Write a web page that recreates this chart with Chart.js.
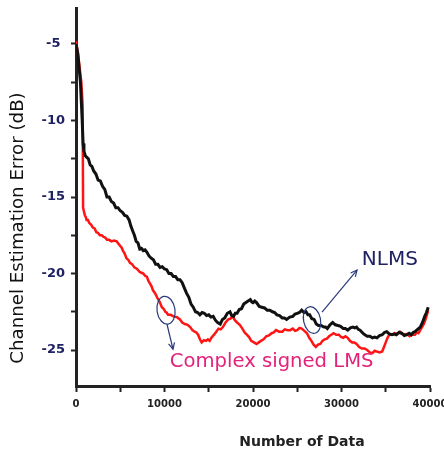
<!DOCTYPE html>
<html>
<head>
<meta charset="utf-8">
<script src="https://cdn.jsdelivr.net/npm/chart.js@4"></script>
<style>
  html, body { margin: 0; padding: 0; background: #fff; }
  #wrap { width: 444px; height: 454px; }
</style>
</head>
<body>
<div id="wrap"><canvas id="chart" width="444" height="454"></canvas></div>
<script>
'use strict';
// Data: number of data vs channel estimation error (dB)
const nlmsX = [0,200,500,700,800,900,1050,1200,1400,1600,1800,2000,2250,2500,2750,3000,3250,3500,3750,4000,4250,4500,4750,5000,5250,5500,5750,6000,6200,6400,6600,6800,7000,7200,7400,7600,7800,8000,8250,8500,8750,9000,9250,9500,9750,10000,10250,10500,10750,11000,11250,11500,11750,12000,12250,12500,12750,13000,13250,13500,13750,14000,14250,14500,14750,15000,15250,15500,15750,16000,16300,16550,16800,17100,17400,17600,17800,18000,18200,18450,18700,18950,19200,19450,19700,19850,20000,20200,20400,20700,21000,21300,21600,21900,22200,22450,22700,23000,23300,23550,23800,24150,24500,24750,25000,25250,25500,25750,26000,26200,26400,26650,26900,27150,27400,27700,28000,28200,28400,28700,29000,29300,29600,29900,30200,30450,30700,31000,31300,31500,31700,31900,32100,32500,32900,33200,33500,33750,34000,34300,34600,34850,35100,35400,35700,35950,36200,36500,36800,37100,37400,37650,37900,38100,38300,38600,38900,39150,39400,39600,39800];
const nlmsY = [-5.0,-5.6,-7.5,-10.0,-11.5,-12.0,-12.3,-12.4,-12.5,-12.9,-13.0,-13.3,-13.5,-13.9,-13.95,-14.3,-14.5,-15.0,-15.0,-15.3,-15.4,-15.7,-15.7,-15.9,-16.0,-16.2,-16.25,-16.5,-16.9,-17.2,-17.5,-17.9,-18.0,-18.4,-18.35,-18.5,-18.45,-18.6,-18.85,-19.0,-19.1,-19.4,-19.4,-19.6,-19.55,-19.7,-19.75,-20.0,-20.0,-20.2,-20.2,-20.4,-20.4,-20.6,-20.95,-21.3,-21.55,-22.0,-22.2,-22.5,-22.55,-22.7,-22.55,-22.6,-22.75,-22.7,-22.85,-22.8,-23.05,-23.2,-23.3,-23.0,-22.9,-22.6,-22.5,-22.75,-22.8,-22.6,-22.6,-22.35,-22.3,-22.0,-21.9,-21.8,-21.7,-21.85,-21.9,-21.8,-21.9,-22.15,-22.2,-22.25,-22.4,-22.4,-22.5,-22.55,-22.7,-22.75,-22.9,-22.9,-23.0,-22.85,-22.8,-22.65,-22.6,-22.55,-22.4,-22.55,-22.5,-22.7,-22.7,-22.95,-23.0,-23.3,-23.4,-23.4,-23.5,-23.5,-23.6,-23.35,-23.2,-23.35,-23.4,-23.45,-23.6,-23.6,-23.7,-23.55,-23.5,-23.55,-23.5,-23.65,-23.7,-23.95,-24.1,-24.1,-24.2,-24.15,-24.2,-24.05,-24.0,-23.85,-23.8,-23.95,-24.0,-23.95,-24.0,-23.85,-23.9,-24.05,-24.0,-23.9,-24.0,-23.85,-23.8,-23.65,-23.5,-23.2,-22.8,-22.55,-22.2];
const cslmsX = [0,300,600,750,800,1000,1100,1200,1350,1500,1700,1900,2100,2300,2500,2700,2900,3100,3300,3500,3750,4000,4300,4600,4800,5000,5150,5300,5500,5700,5900,6100,6350,6600,6900,7200,7400,7600,7800,8000,8200,8400,8550,8700,8950,9200,9450,9700,9900,10100,10250,10400,10700,11000,11400,11750,12000,12300,12600,12900,13150,13400,13600,13800,14000,14200,14450,14700,14900,15100,15350,15600,15850,16100,16350,16600,16900,17200,17450,17700,17950,18200,18500,18800,19050,19300,19550,19800,20100,20400,20650,20900,21200,21500,21800,22100,22350,22600,22950,23300,23600,23900,24200,24500,24750,25000,25250,25500,25800,26100,26350,26600,26850,27100,27350,27600,27850,28100,28350,28600,28850,29100,29400,29700,29950,30200,30450,30700,30950,31200,31450,31700,32000,32300,32600,32900,33200,33500,33750,34000,34300,34600,34800,35000,35200,35400,35700,36000,36300,36600,36850,37100,37400,37700,38000,38300,38500,38700,38900,39100,39300,39500,39650,39800];
const cslmsY = [-4.8,-6.0,-7.5,-9.0,-15.7,-16.2,-16.3,-16.5,-16.5,-16.7,-16.8,-17.0,-17.05,-17.3,-17.35,-17.5,-17.5,-17.6,-17.65,-17.8,-17.8,-17.9,-17.85,-17.9,-18.05,-18.2,-18.3,-18.5,-18.7,-19.0,-19.1,-19.3,-19.4,-19.6,-19.7,-19.9,-19.95,-20.0,-20.15,-20.2,-20.5,-20.7,-20.85,-21.1,-21.3,-21.6,-21.85,-22.2,-22.3,-22.5,-22.55,-22.7,-22.7,-22.8,-22.85,-23.0,-23.2,-23.3,-23.35,-23.5,-23.7,-23.8,-23.85,-24.0,-24.3,-24.5,-24.35,-24.4,-24.3,-24.4,-24.15,-24.0,-23.8,-23.6,-23.65,-23.5,-23.2,-23.0,-22.95,-22.8,-23.05,-23.2,-23.35,-23.6,-23.85,-24.0,-24.15,-24.4,-24.5,-24.6,-24.5,-24.4,-24.3,-24.1,-24.05,-23.9,-23.85,-23.7,-23.8,-23.8,-23.65,-23.7,-23.7,-23.6,-23.75,-23.7,-23.55,-23.6,-23.75,-23.9,-24.2,-24.4,-24.65,-24.8,-24.65,-24.6,-24.4,-24.3,-24.25,-24.1,-24.0,-23.9,-24.0,-24.0,-24.15,-24.2,-24.1,-24.2,-24.4,-24.5,-24.5,-24.6,-24.8,-24.9,-24.9,-25.0,-25.15,-25.2,-25.05,-25.1,-25.15,-25.1,-24.8,-24.5,-24.2,-24.0,-24.0,-23.9,-23.95,-23.8,-23.95,-24.0,-23.95,-24.1,-24.0,-24.0,-23.85,-23.9,-23.7,-23.5,-23.3,-23.0,-22.7,-22.4];
// Axis ticks
const xTicks = [0,5000,10000,15000,20000,25000,30000,35000,40000];
const yTicks = [-25,-22.5,-20,-17.5,-15,-12.5,-10,-7.5,-5];

const toPoints = (xs, ys) => xs.map((x, i) => ({x: x, y: ys[i]}));

// Draws axis titles, the two labels, the ellipses and arrows
const annotate = {
  id: 'annotate',
  afterDraw(chart) {
    const c = chart.ctx;
    const sx = chart.scales.x, sy = chart.scales.y;
    c.save();
    // y title
    c.save();
    c.translate(18, 228);
    c.rotate(-Math.PI / 2);
    c.fillStyle = '#111';
    c.textAlign = 'center';
    c.textBaseline = 'middle';
    c.font = '16px "DejaVu Sans"';
    const yt = 'Channel Estimation Error (dB)';
    const w = c.measureText(yt).width;
    c.font = (16 * 271 / w).toFixed(1) + 'px "DejaVu Sans"';
    c.fillText(yt, 0, 0);
    c.restore();
    // x title
    c.fillStyle = '#222';
    c.font = 'bold 14px "DejaVu Sans"';
    c.textAlign = 'center';
    c.textBaseline = 'middle';
    c.fillText('Number of Data', 302, 442);

    // labels
    c.textAlign = 'left';
    c.fillStyle = '#1f2262';
    c.font = '20px "DejaVu Sans"';
    c.fillText('NLMS', sx.getPixelForValue(32300), sy.getPixelForValue(-19.1));
    c.fillStyle = '#e3227a';
    c.font = '18px "DejaVu Sans"';
    const lt = 'Complex signed LMS';
    const lw = c.measureText(lt).width;
    c.font = (18 * 204 / lw).toFixed(1) + 'px "DejaVu Sans"';
    c.fillText(lt, sx.getPixelForValue(10600), sy.getPixelForValue(-25.8));

    // ellipses + arrows
    c.strokeStyle = '#2a3a7a';
    c.lineWidth = 1.2;
    const arrow = (x1, y1, x2, y2) => {
      c.beginPath(); c.moveTo(x1, y1); c.lineTo(x2, y2); c.stroke();
      const a = Math.atan2(y2 - y1, x2 - x1), h = 7;
      c.beginPath();
      c.moveTo(x2 - h * Math.cos(a - 0.45), y2 - h * Math.sin(a - 0.45));
      c.lineTo(x2, y2);
      c.lineTo(x2 - h * Math.cos(a + 0.45), y2 - h * Math.sin(a + 0.45));
      c.stroke();
    };
    let ex = sx.getPixelForValue(10170), ey = sy.getPixelForValue(-22.4);
    c.beginPath(); c.ellipse(ex, ey, 9, 14, -0.15, 0, Math.PI * 2); c.stroke();
    arrow(ex + 1, ey + 14, ex + 7, ey + 39);
    ex = sx.getPixelForValue(26670); ey = sy.getPixelForValue(-23.04);
    c.beginPath(); c.ellipse(ex, ey, 8.5, 13.5, -0.2, 0, Math.PI * 2); c.stroke();
    arrow(ex + 10, ey - 8, ex + 45, ey - 50);
    c.restore();
  }
};

const ctx = document.getElementById('chart').getContext('2d');
new Chart(ctx, {
  type: 'line',
  data: {
    datasets: [
      {label: 'NLMS', data: toPoints(nlmsX, nlmsY), borderColor: '#111', borderWidth: 3, pointRadius: 0, tension: 0},
      {label: 'Complex signed LMS', data: toPoints(cslmsX, cslmsY), borderColor: '#ff1414', borderWidth: 2.5, pointRadius: 0, tension: 0}
    ]
  },
  options: {
    responsive: false,
    animation: false,
    layout: {padding: {top: 8, right: 14, left: 0, bottom: 0}},
    plugins: {legend: {display: false}, tooltip: {enabled: false}},
    scales: {
      x: {
        type: 'linear', min: 0, max: 40000,
        afterBuildTicks: s => { s.ticks = xTicks.map(v => ({value: v})); },
        afterFit: s => { s.height = 68; s.paddingLeft = 0; s.paddingRight = 0; },
        border: {display: true, color: '#222', width: 3},
        grid: {drawOnChartArea: false, drawTicks: true, tickLength: 6, tickWidth: 2, tickColor: '#222'},
        ticks: {
          autoSkip: false, maxRotation: 0, padding: 6, color: '#222',
          font: {family: 'DejaVu Sans', size: 10, weight: 'bold'},
          callback: v => (v % 10000 === 0 ? String(v) : '')
        }
      },
      y: {
        type: 'linear', min: -27.35, max: -2.65,
        afterBuildTicks: s => { s.ticks = yTicks.map(v => ({value: v})); },
        afterFit: s => { s.width = 76; s.paddingTop = 0; s.paddingBottom = 0; },
        border: {display: true, color: '#222', width: 3},
        grid: {drawOnChartArea: false, drawTicks: true, tickLength: 5, tickWidth: 2, tickColor: '#222'},
        ticks: {
          autoSkip: false, padding: 6, crossAlign: 'center', color: '#1f2262',
          font: {family: 'DejaVu Sans', size: 13, weight: 'bold'},
          callback: v => (v % 5 === 0 ? String(v) : '')
        }
      }
    }
  },
  plugins: [annotate]
});
</script>
</body>
</html>
